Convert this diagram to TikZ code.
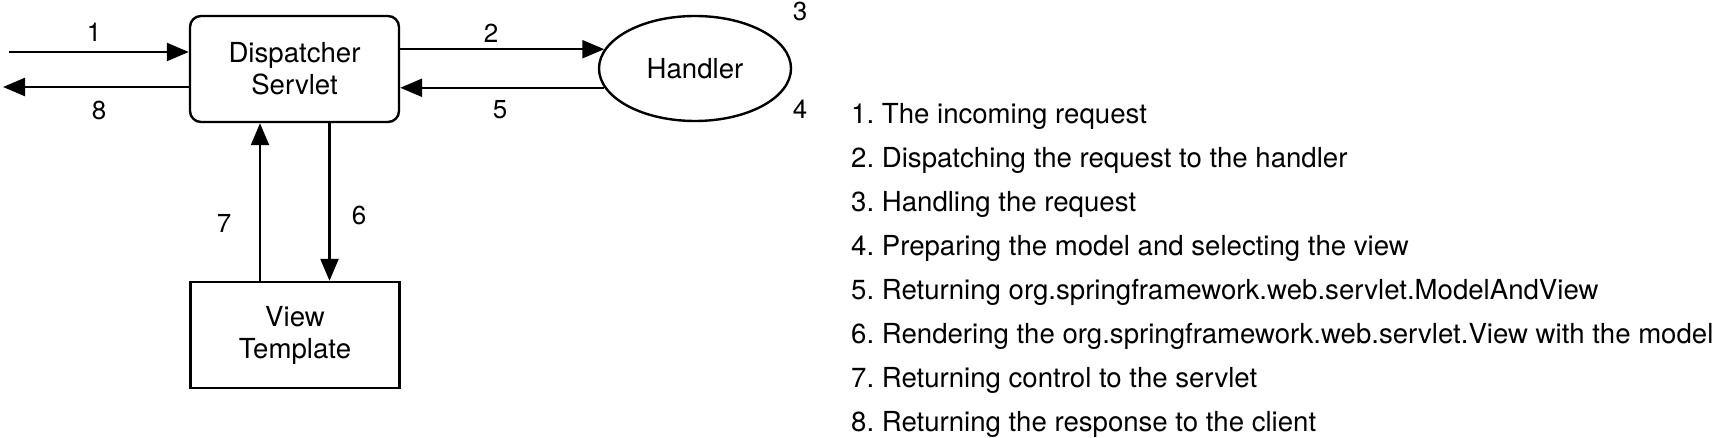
\documentclass[tikz,border=0pt]{standalone}
\usepackage{fontspec}
\setmainfont{TeX Gyre Heros}
\usetikzlibrary{arrows.meta,shapes.geometric}
\frenchspacing

\begin{document}
\begin{tikzpicture}[x=0.5pt, y=-0.5pt,
  line width=1.2pt,
  every node/.append style={font=\fontsize{13.8}{16}\selectfont},
  box/.style={draw, align=center, inner sep=0pt, minimum width=104.5pt, minimum height=53pt},
  ell/.style={draw, ellipse, inner sep=0pt, minimum width=96pt, minimum height=52.5pt},
  arr/.style={-{Triangle[length=11pt, width=9pt]}},
  num/.style={font=\fontsize{13}{15}\selectfont, inner sep=0pt},
  item/.style={font=\fontsize{13.8}{16}\selectfont, anchor=base west, inner sep=0pt}]
\useasboundingbox (0,0) rectangle (1717,438);
% boxes
\node[box, rounded corners=5.5pt] (disp) at (294.5,69) {Dispatcher\\Servlet};
\node[ell] (hdl) at (695,68.5) {Handler};
\node[box] (view) at (295,335) {View\\Template};
% request and response ends
\coordinate (in) at (9,52);
\coordinate (out) at (3,87);
\draw[arr] (in) -- (disp.west |- in);
\draw[arr] (disp.west |- out) -- (out);
\draw[arr] (disp.east |- hdl.168) -- (hdl.168);
\draw[arr] (hdl.192) -- (disp.east |- hdl.192);
\draw[arr] ([xshift=17.5pt]disp.south) -- ([xshift=17.5pt]disp.south |- view.north);
\draw[arr] ([xshift=-17.5pt]view.north) -- ([xshift=-17.5pt]view.north |- disp.south);
% step numbers
\node[num] (n1) at (94,32) {1};
\node[num] (n2) at (491,33) {2};
\node[num] (n3) at (800,11) {3};
\node[num] (n4) at (800,109) {4};
\node[num] (n5) at (500,110) {5};
\node[num] (n6) at (359,215) {6};
\node[num] (n7) at (224,223) {7};
\node[num] (n8) at (99,110) {8};
% legend
\foreach \n/\t in {1/The incoming request,
    2/Dispatching the request to the handler,
    3/Handling the request,
    4/Preparing the model and selecting the view,
    5/Returning org.springframework.web.servlet.ModelAndView,
    6/Rendering the org.springframework.web.servlet.View with the model,
    7/Returning control to the servlet,
    8/Returning the response to the client}
  \node[item] (item\n) at (850,{80.1+43.9*\n}) {\n. \t};
\end{tikzpicture}
\end{document}
